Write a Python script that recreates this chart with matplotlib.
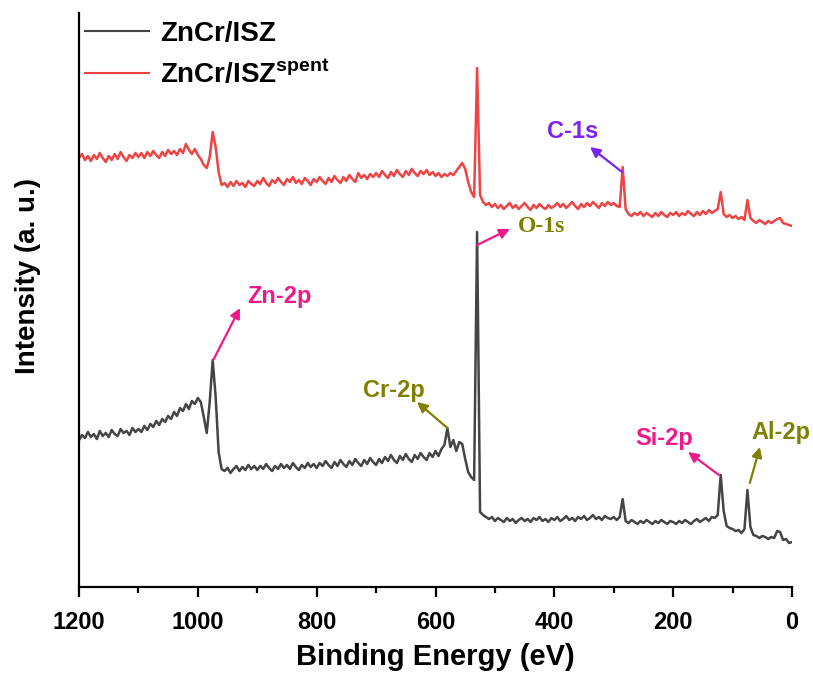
import matplotlib

matplotlib.use("Agg")
import matplotlib.pyplot as plt
import numpy as np
from matplotlib.lines import Line2D

plt.rcParams["font.family"] = ["Liberation Sans", "DejaVu Sans"]
plt.rcParams["font.weight"] = "bold"
plt.rcParams["mathtext.fontset"] = "custom"
plt.rcParams["mathtext.rm"] = "Liberation Sans:bold"
plt.rcParams["mathtext.bf"] = "Liberation Sans:bold"

# binding energy grid of the survey scans (eV), 1200 -> 0 in 5 eV steps
binding_energy = np.arange(1200, -1, -5)

# ZnCr/ISZ (fresh) survey, a.u., one row per 100 eV
intensity_fresh = [
    147, 152, 149, 155, 150, 153, 148, 156, 151, 154, 150, 157, 153, 151, 158, 154, 156, 152, 159, 155,
    158, 155, 161, 157, 163, 160, 166, 162, 168, 165, 171, 168, 175, 171, 179, 176, 183, 178, 186, 183,
    189, 185, 170, 154, 185, 227, 190, 135, 118, 116, 119, 114, 118, 121, 116, 120, 117, 122, 118, 121,
    117, 121, 118, 123, 119, 116, 121, 118, 123, 119, 122, 118, 124, 120, 117, 122, 119, 124, 120, 123,
    119, 124, 121, 126, 122, 119, 125, 121, 127, 123, 120, 126, 122, 128, 124, 121, 127, 123, 129, 125,
    122, 128, 124, 130, 126, 132, 127, 124, 131, 127, 133, 128, 125, 132, 128, 134, 130, 127, 134, 130,
    136, 131, 138, 142, 159, 140, 147, 136, 145, 143, 128, 115, 110, 107, 355, 75, 72, 70, 68, 70,
    66, 69, 67, 65, 69, 66, 68, 64, 67, 69, 66, 68, 65, 69, 67, 70, 66, 68, 65, 69,
    67, 70, 66, 68, 71, 67, 69, 66, 70, 68, 71, 67, 69, 72, 68, 70, 67, 71, 69, 68,
    70, 67, 70, 88, 66, 64, 67, 65, 63, 66, 64, 67, 65, 63, 66, 64, 67, 65, 63, 66,
    65, 63, 66, 64, 67, 65, 63, 66, 68, 65, 67, 69, 66, 70, 69, 72, 112, 76, 61, 59,
    58, 56, 57, 54, 58, 97, 60, 52, 51, 49, 51, 50, 48, 50, 49, 56, 55, 47, 48, 44,
    45,
]

# ZnCr/ISZ spent survey, a.u. (offset upward), one row per 100 eV
intensity_spent = [
    429, 433, 427, 431, 426, 432, 428, 434, 429, 425, 431, 427, 433, 428, 435, 430, 426, 432, 429, 434,
    430, 434, 429, 435, 431, 436, 432, 429, 435, 431, 437, 433, 436, 432, 438, 434, 443, 437, 433, 438,
    432, 428, 422, 419, 430, 455, 440, 415, 402, 404, 400, 405, 401, 406, 402, 404, 400, 406, 403, 401,
    406, 403, 409, 404, 401, 407, 404, 409, 405, 402, 408, 405, 410, 404, 407, 403, 409, 406, 402, 408,
    405, 410, 406, 403, 409, 405, 411, 407, 404, 410, 406, 412, 408, 405, 414, 409, 412, 408, 413, 410,
    414, 410, 416, 412, 409, 415, 411, 417, 413, 410, 416, 412, 418, 414, 411, 416, 413, 417, 412, 415,
    411, 414, 410, 413, 411, 414, 412, 416, 420, 424, 418, 405, 395, 390, 519, 392, 385, 382, 384, 380,
    383, 379, 382, 378, 381, 384, 379, 382, 378, 381, 384, 380, 377, 382, 379, 383, 380, 378, 382, 379,
    381, 384, 380, 383, 379, 382, 385, 381, 378, 383, 380, 384, 381, 385, 382, 379, 384, 381, 385, 382,
    384, 381, 380, 420, 378, 373, 371, 374, 372, 375, 371, 374, 372, 370, 374, 371, 375, 372, 370, 374,
    372, 375, 371, 374, 372, 376, 373, 371, 375, 372, 376, 373, 377, 374, 376, 378, 395, 373, 370, 372,
    369, 371, 368, 370, 367, 387, 369, 366, 364, 367, 365, 363, 366, 364, 366, 368, 369, 364, 363, 362,
    361,
]

series_labels = ["ZnCr/ISZ", r"ZnCr/ISZ$^{\mathrm{spent}}$"]
series_colors = ["#454545", "#f04343"]

# peak labels: text, colour, arrow tail (on the peak), arrow head, text centre
peak_labels = ["Zn-2p", "Cr-2p", "O-1s", "C-1s", "Si-2p", "Al-2p"]
peak_colors = ["#ee1a8a", "#808000", "#808000", "#7d22f0", "#ee1a8a", "#808000"]
arrow_colors = ["#ee1a8a", "#808000", "#ee1a8a", "#7d22f0", "#ee1a8a", "#808000"]


def draw_peak_labels(ax):
    """Writes the element labels with their arrows."""
    tails = [(974, 227), (580, 159), (530, 342), (286, 415), (123, 112), (71, 104)]
    heads = [(929, 279), (631, 185), (475, 358), (340, 440), (175, 135), (54, 140)]
    centres = [(863, 290), (670, 197), (422, 360), (370, 455), (215, 149), (18, 155)]
    for label, color, arrow_color, tail, head, centre in zip(
        peak_labels, peak_colors, arrow_colors, tails, heads, centres
    ):
        ax.annotate(
            "",
            xy=head,
            xytext=tail,
            arrowprops=dict(
                arrowstyle="-|>", color=arrow_color, lw=1.6, mutation_scale=15,
                shrinkA=0, shrinkB=0,
            ),
        )
        family = ["Liberation Serif"] if label == "O-1s" else ["Liberation Sans"]
        ax.text(
            centre[0], centre[1], label, color=color, fontsize=17, fontweight="bold",
            family=family, ha="center", va="center", clip_on=False,
        )


fig = plt.figure(figsize=(8.13, 6.77), dpi=100)
ax = fig.add_axes([79 / 813, 90 / 677, 713 / 813, 574 / 677])

ax.plot(binding_energy, intensity_fresh, color=series_colors[0], lw=1.8)
ax.plot(binding_energy, intensity_spent, color=series_colors[1], lw=1.8)

ax.set_xlim(1200, 0)
ax.set_ylim(0, 574)
ax.set_xticks(np.arange(1200, -1, -200))
ax.set_xticks(np.arange(1100, 0, -200), minor=True)
ax.set_yticks([])
for side in ["top", "right"]:
    ax.spines[side].set_visible(False)
for side in ["left", "bottom"]:
    ax.spines[side].set_linewidth(1.6)
ax.tick_params(axis="x", which="major", length=7, width=1.6, labelsize=17, pad=10)
ax.tick_params(axis="x", which="minor", length=4, width=1.6)
ax.set_xlabel("Binding Energy (eV)", fontsize=21, fontweight="bold", labelpad=7)
ax.set_ylabel("Intensity (a. u.)", fontsize=20, fontweight="bold")
ax.yaxis.set_label_coords(-0.072, 0.542)
ax.yaxis.label.set_va("center")

draw_peak_labels(ax)

handles = [Line2D([], [], color=c, lw=1.5) for c in series_colors]
ax.legend(
    handles, series_labels, loc="upper left", bbox_to_anchor=(85 / 813, 1 - 21 / 677),
    bbox_transform=fig.transFigure, frameon=False, fontsize=20, handlelength=2.3,
    handletextpad=0.4, labelspacing=0.45, borderpad=0, borderaxespad=0,
)

fig.savefig("out.png", dpi=100)
